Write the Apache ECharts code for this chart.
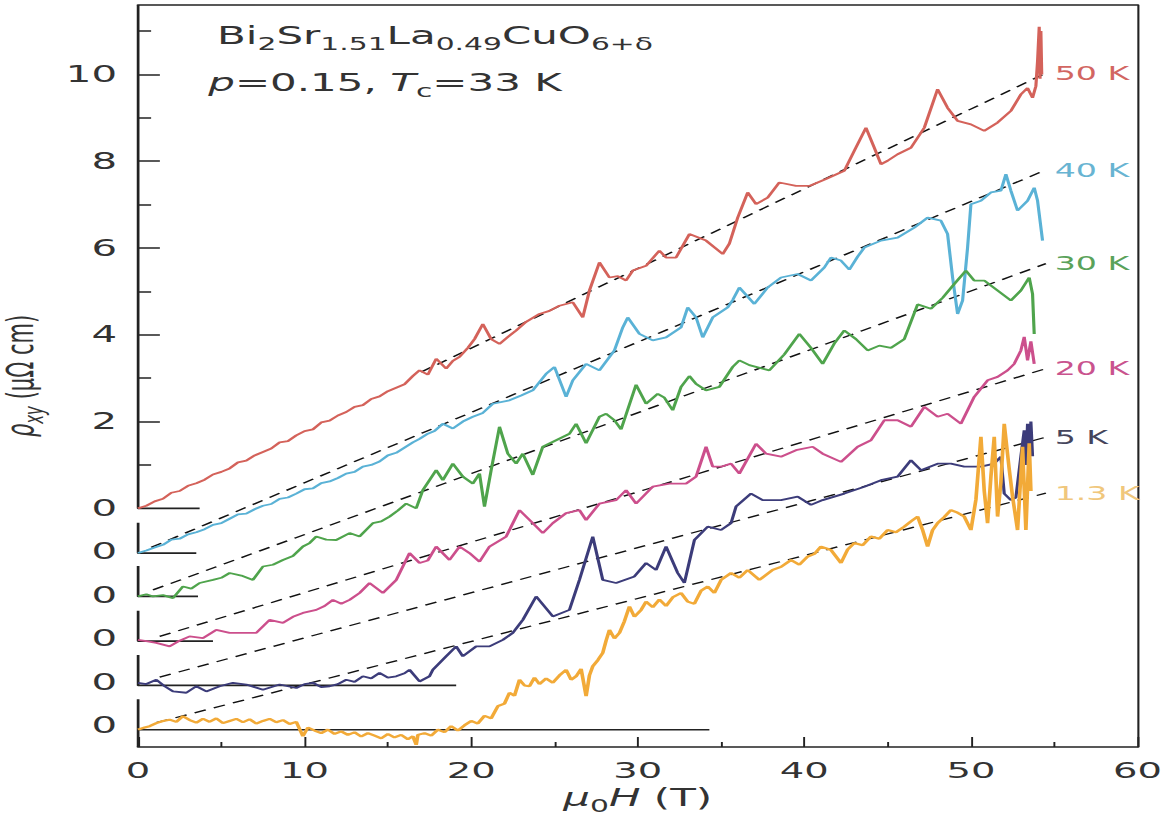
<!DOCTYPE html>
<html>
<head>
<meta charset="utf-8">
<script src="https://cdn.jsdelivr.net/npm/echarts@6/dist/echarts.min.js"></script>
<style>
html,body{margin:0;padding:0;background:#fff;overflow:hidden;}
#c{width:669.714px;height:818px;transform:scaleX(1.75);transform-origin:0 0;}
</style>
</head>
<body>
<div id="c"></div>
<script>
// ---------------- data (rho_xy in µΩ cm, field in T) ----------------
const temps = ['50 K', '40 K', '30 K', '20 K', '5 K', '1.3 K'];
const offsets = [0, -1.03, -2.03, -3.06, -4.08, -5.1];        // vertical display offsets
const baselineEnd = [3.7, 3.5, 3.6, 4.5, 19.1, 34.3];          // length of zero lines (T)
const fitStart = [[17, 3.14], [0.8, 0.13], [0.9, 0.15], [1.3, 0.11], [1.3, 0.19], [1.1, 0.16]];
const fitEnd = [[54.5, 10.03], [54.5, 8.83], [54.5, 7.67], [54.5, 6.28], [54.5, 5.72], [54.5, 5.45]];

const field_50K = [0,0.5,1,1.5,2,2.5,3,3.5,4,4.5,5,5.5,6,6.5,7,7.5,8,8.5,9,9.5,10,10.5,11,11.5,12,12.5,13,13.5,14,14.5,15,15.5,16,
 16.5,16.9,17.4,17.9,18.5,18.9,19.3,19.8,20.2,20.7,21.2,21.7,22.2,22.7,23.3,24.1,24.7,25.3,26.1,26.7,
 27.1,27.7,28.3,28.8,29.3,29.7,30.5,31.3,31.7,32.3,33.1,34.1,35.1,35.5,36.0,36.6,37.1,37.8,38.5,39.5,
 40.3,41.3,42.4,43.0,43.7,44.2,44.6,45.0,45.6,46.4,47.2,48.0,48.6,49.2,50.0,50.8,51.6,52.4,53.0,53.4,
 53.7,53.9,54.0,54.1,54.15,54.2,54.25];
const rho_50K = [0,0.06,0.16,0.22,0.36,0.40,0.52,0.58,0.66,0.78,0.84,0.92,1.06,1.10,1.22,1.30,1.38,1.52,1.55,1.68,
 1.78,1.82,1.98,2.02,2.14,2.22,2.34,2.38,2.52,2.58,2.70,2.78,2.86,
 3.05,3.18,3.08,3.45,3.22,3.40,3.49,3.70,3.90,4.25,3.90,3.79,3.95,4.10,4.30,4.48,4.55,4.67,4.75,4.40,
 5.02,5.67,5.32,5.35,5.25,5.48,5.59,5.94,5.78,5.78,6.32,6.17,5.86,6.10,6.70,7.28,7.01,7.16,7.51,7.43,
 7.43,7.59,7.78,8.24,8.77,8.31,7.93,8.01,8.16,8.31,8.77,9.66,9.23,8.93,8.85,8.70,8.89,9.16,9.54,9.69,
 9.46,9.73,10.3,11.1,9.9,11.0,10.0];

const field_40K = [0,0.5,1,1.5,2,2.5,3,3.5,4,4.5,5,5.5,6,6.5,7,7.5,8,8.5,9,9.5,
 10,10.5,11,11.5,12,12.5,13,13.5,14,14.5,15,15.5,16,16.5,16.9,17.4,17.8,18.3,18.9,19.5,
 20.1,20.7,21.3,22.3,23.0,23.7,24.5,25.0,25.7,26.1,26.9,27.7,28.6,29.1,29.4,30.1,30.9,31.7,32.6,33.0,
 33.5,33.9,34.5,35.4,35.7,36.1,37.0,37.8,38.6,39.6,40.4,41.2,41.6,42.2,42.7,43.2,43.6,44.6,45.6,46.6,
 47.4,48.2,48.6,48.9,49.2,49.5,49.8,50.0,50.6,51.2,51.8,52.1,52.4,52.8,53.4,53.8,54.0,54.3];
const rho_40K = [0,0.06,0.13,0.19,0.31,0.33,0.43,0.48,0.55,0.65,0.69,0.79,0.89,0.91,1.01,1.09,1.13,1.25,1.28,1.37,
 1.47,1.49,1.61,1.65,1.73,1.83,1.87,1.99,2.03,2.11,2.25,2.31,2.43,2.55,2.63,2.75,2.81,2.98,2.87,3.03,
 3.14,3.23,3.44,3.52,3.63,3.75,4.13,4.29,3.60,3.98,4.36,4.21,4.67,5.20,5.43,5.05,4.90,4.97,5.20,5.66,
 5.43,4.97,5.43,5.66,5.83,6.12,5.74,6.12,6.35,6.43,6.28,6.58,6.81,6.74,6.53,6.83,7.04,7.20,7.27,7.50,
 7.73,7.66,7.35,6.35,5.51,5.82,7.04,8.04,8.12,8.31,8.35,8.73,8.35,7.89,8.12,8.42,8.12,7.20];

const field_30K = [0,0.5,0.9,1.5,2.1,2.7,3.2,3.7,4.5,5.0,5.5,6.2,6.9,7.5,8.1,8.7,9.3,9.9,10.3,10.7,
 11.3,11.9,12.7,13.3,14.1,14.6,15.1,15.6,16.1,16.7,17.1,17.5,17.9,18.3,18.9,19.5,20.1,20.5,20.8,21.2,
 21.7,22.2,22.7,23.1,23.7,24.3,25.1,25.9,26.3,26.9,27.7,28.1,28.6,29.0,29.9,30.5,31.2,31.6,32.1,32.6,
 33.1,33.5,34.1,34.9,35.7,36.1,36.7,37.9,38.8,39.7,40.4,41.1,41.8,42.4,43.1,43.8,44.5,45.2,46.0,46.8,
 47.6,48.3,49.0,49.7,50.2,50.8,51.6,52.4,53.0,53.5,53.7,53.8];
const rho_30K = [0,0.05,0,0.03,-0.04,0.23,0.18,0.31,0.38,0.43,0.54,0.48,0.38,0.69,0.73,0.84,0.93,1.15,1.23,1.38,
 1.31,1.30,1.46,1.38,1.69,1.73,1.84,1.98,2.14,2.03,2.45,2.68,2.91,2.68,3.06,2.76,2.60,2.83,2.07,2.91,
 3.91,3.29,3.06,3.29,2.80,3.45,3.60,3.75,3.98,3.53,4.14,4.21,4.06,3.85,4.88,4.44,4.67,4.58,4.29,4.83,
 5.08,4.90,4.75,4.83,5.29,5.44,5.33,5.21,5.58,6.05,5.73,5.36,5.83,6.13,5.93,5.67,5.78,5.73,5.93,6.73,
 6.63,6.88,7.20,7.51,7.28,7.28,7.05,6.82,7.05,7.35,6.97,6.05];

const field_20K = [0,0.5,1.1,1.9,2.5,3.1,3.9,4.7,5.5,6.3,7.1,7.9,8.7,9.3,9.9,10.7,11.2,11.7,12.2,12.7,
 13.3,13.9,14.7,15.5,16.3,16.9,17.4,17.9,18.7,19.3,19.9,20.5,21.1,22.1,22.9,23.7,24.3,24.9,25.7,26.5,
 26.9,27.7,28.7,29.3,29.9,30.9,31.9,32.9,33.5,34.1,34.5,35.0,35.6,36.1,37.1,37.7,38.6,39.5,40.5,41.1,
 42.2,43.2,44.0,44.8,45.6,46.4,47.2,48.0,48.6,49.4,50.2,51.0,51.6,52.2,52.6,53.0,53.2,53.4,53.6,53.8];
const rho_20K = [0.03,0,-0.04,-0.12,0.01,0.11,0.07,0.26,0.19,0.19,0.19,0.49,0.42,0.56,0.65,0.72,0.81,0.95,0.86,0.95,
 1.11,1.34,1.11,1.41,2.03,1.80,1.86,2.18,1.87,2.18,2.03,1.83,2.18,2.41,3.02,2.72,2.49,2.72,2.95,3.02,
 2.79,3.17,3.25,3.48,3.17,3.56,3.63,3.63,3.79,4.48,4.02,4.02,4.09,3.86,4.55,4.32,4.25,4.40,4.48,4.32,
 4.13,4.48,4.63,5.09,5.09,4.94,5.40,5.17,5.24,5.01,5.63,6.01,6.09,6.24,6.39,6.70,7.01,6.47,6.91,6.39];

const field_5K = [0,0.5,1.1,1.6,2.1,2.9,3.5,4.1,4.9,5.7,6.5,7.0,7.5,8.5,9.0,9.5,10.0,10.5,11.0,11.5,
 12.0,12.5,13.0,13.5,14.0,14.5,15.0,15.5,16.0,16.3,16.9,17.5,17.7,18.5,19.1,19.5,20.3,21.1,21.9,22.5,
 23.1,23.9,24.9,25.9,26.5,27.3,27.9,28.7,29.8,30.5,31.1,31.7,32.4,32.8,33.4,34.2,35.0,35.6,35.9,36.8,
 37.5,38.6,39.6,40.4,41.1,42.4,43.6,44.6,45.6,46.4,47.0,48.0,48.8,49.6,50.6,51.4,51.8,52.0,52.4,52.7,
 53.0,53.2,53.3,53.4,53.5,53.6,53.7];
const rho_5K = [0.06,0.03,0.13,-0.02,-0.14,-0.17,-0.02,-0.14,-0.02,0.06,0.02,-0.04,-0.10,0.02,-0.02,-0.06,0.03,0.06,-0.04,-0.02,
 0.03,0.13,0.08,0.21,0.16,0.29,0.18,0.21,0.28,0.36,0.09,0.21,0.36,0.67,0.90,0.67,0.90,0.90,1.05,1.21,
 1.51,2.05,1.59,1.74,2.43,3.43,2.43,2.36,2.51,2.82,2.66,3.20,2.59,2.36,3.35,3.66,3.58,3.74,4.12,4.42,
 4.27,4.27,4.35,4.16,4.27,4.42,4.58,4.73,4.81,5.19,4.96,5.11,5.11,5.04,5.04,5.11,5.27,4.42,4.27,4.33,
 5.28,5.88,5.08,6.03,5.18,6.08,5.28];

const field_1p3K = [0,0.4,0.7,1.1,1.5,1.9,2.3,2.7,3.1,3.5,3.9,4.3,4.7,5.1,5.5,5.9,6.3,6.7,7.1,7.5,
 7.9,8.3,8.7,9.1,9.5,9.9,10.2,10.6,11.0,11.4,11.8,12.2,12.6,13.0,13.4,13.8,14.2,14.6,15.0,15.4,
 15.8,16.2,16.5,16.7,16.8,17.2,17.6,18.0,18.4,18.8,19.2,19.6,20.0,20.4,20.8,21.2,21.6,22.0,22.3,22.6,
 22.9,23.2,23.5,23.8,24.1,24.5,24.9,25.3,25.7,26.0,26.3,26.6,26.9,27.1,27.3,27.6,27.9,28.1,28.3,28.6,
 28.9,29.2,29.5,29.8,30.2,30.5,30.9,31.3,31.7,32.1,32.6,33.0,33.4,33.8,34.2,34.6,35.0,35.6,36.1,36.6,
 37.3,38.1,38.6,39.2,39.7,40.2,40.6,41.0,41.6,42.2,42.6,43.0,43.5,44.0,44.5,45.0,45.5,46.0,46.4,46.8,
 47.1,47.4,47.7,48.0,48.4,48.8,49.2,49.6,50.0,50.3,50.6,50.8,51.0,51.2,51.4,51.6,51.8,52.0,52.3,52.5,
 52.8,53.1,53.3,53.5,53.6];
const rho_1p3K = [0,0.05,0.08,0.15,0.20,0.23,0.18,0.31,0.22,0.16,0.25,0.18,0.26,0.15,0.20,0.25,0.17,0.24,0.14,0.20,
 0.25,0.17,0.22,0.13,0.18,-0.15,0.05,-0.02,-0.08,0,-0.10,-0.04,-0.12,-0.06,-0.16,-0.08,-0.14,-0.20,-0.10,-0.18,
 -0.12,-0.22,-0.15,-0.35,-0.12,-0.08,-0.14,0,-0.06,0.08,-0.02,0.10,0.20,0.14,0.32,0.26,0.54,0.60,0.85,0.78,
 1.15,1.02,1.00,1.20,1.05,1.18,1.08,1.25,1.38,1.15,1.23,1.40,0.77,1.25,1.46,1.60,1.77,2.05,2.30,2.10,
 2.23,2.50,2.84,2.60,2.76,2.95,2.82,3.00,2.85,3.05,3.15,2.95,2.90,3.20,3.30,3.15,3.45,3.61,3.50,3.68,
 3.45,3.68,3.75,3.91,3.80,3.99,4.05,4.22,4.14,3.84,4.15,4.30,4.25,4.45,4.40,4.60,4.55,4.68,4.80,4.91,
 4.60,4.22,4.60,4.76,4.90,5.06,5.00,4.91,4.60,5.30,6.75,5.50,4.76,5.83,6.75,4.91,5.70,7.05,6.00,5.37,
 4.60,6.52,4.60,6.60,5.50];

const yLabelValues = [-5, -4, -3, -2, -1, 0, 2, 4, 6, 8, 10];
const yMajorTicks = [2, 4, 6, 8, 10];
const yMinorTicks = [1, 3, 5, 7, 9, 11];
const xMin = 0, xMax = 60, xStep = 10;
const yMin = -5.5, yMax = 11.6;
const stubHeight = 0.7;

// ---------------- styling ----------------
const S = 1.75;               // horizontal stretch of the whole figure
const F = 'DejaVu Sans';
const TXT = '#333';
const AX = '#222';
const curveColors = ['#d4625a', '#5ab2d6', '#4fa44c', '#cc4f8c', '#3c3c7a', '#f2aa38'];
const curveWidths = [1.8, 1.8, 1.8, 1.8, 1.8, 2.1];
const labelColors = ['#d26662', '#68b4d2', '#5aa25a', '#c9538e', '#45455c', '#f0c77c'];

const fields = [field_50K, field_40K, field_30K, field_20K, field_5K, field_1p3K];
const rhos = [rho_50K, rho_40K, rho_30K, rho_20K, rho_5K, rho_1p3K];

const series = [];
temps.forEach((name, i) => {
  const off = offsets[i];
  // axis stub + zero line
  let seg;
  if (i === 0) seg = [[0, yMax], [0, off], [baselineEnd[i], off]];
  else if (i === temps.length - 1) seg = [[0, off + stubHeight], [0, yMin]];
  else seg = [[0, off + stubHeight], [0, off], [baselineEnd[i], off]];
  series.push({type: 'line', data: seg, showSymbol: false, silent: true, clip: false, z: 2,
    lineStyle: {color: AX, width: 1.7}});
  if (i === temps.length - 1) {
    series.push({type: 'line', data: [[0, off], [baselineEnd[i], off]], showSymbol: false, silent: true, clip: false, z: 2,
      lineStyle: {color: AX, width: 1.5}});
  }
  // dashed fit line with temperature label
  series.push({type: 'line', name: name, showSymbol: false, silent: true, clip: false, z: 2,
    data: [[fitStart[i][0], fitStart[i][1] + off], [fitEnd[i][0], fitEnd[i][1] + off]],
    lineStyle: {color: '#111', width: 1.3, type: [7, 5]},
    endLabel: {show: true, formatter: () => name, color: labelColors[i], fontSize: 19, fontFamily: F,
               fontWeight: 'normal', distance: 5}});
  // measured curve
  series.push({type: 'line', name: name + ' data', showSymbol: false, silent: true, clip: false, z: 3,
    data: fields[i].map((x, j) => [x, rhos[i][j] + off]),
    lineStyle: {color: curveColors[i], width: curveWidths[i]}});
});

const richBase = {fontFamily: F, color: TXT, fontWeight: 'normal'};
const chart = echarts.init(document.getElementById('c'), null, {renderer: 'svg'});
chart.setOption({
  animation: false,
  backgroundColor: '#fff',
  grid: {left: 138 / S, right: 35 / S, top: 5, bottom: 71, containLabel: false, outerBoundsMode: 'none'},
  title: [
    {left: 124, top: 19, padding: 0,
     text: '{n|Bi}{s|2}{n|Sr}{s|1.51}{n|La}{s|0.49}{n|CuO}{s|6+δ}',
     textStyle: {fontWeight: 'normal', rich: {
       n: Object.assign({fontSize: 24, lineHeight: 34, verticalAlign: 'middle'}, richBase),
       s: Object.assign({fontSize: 17, lineHeight: 18, verticalAlign: 'bottom'}, richBase)}}},
    {left: 119, top: 66, padding: 0,
     text: '{i|p}{n|=0.15, }{i|T}{s|c}{n|=33 K}',
     textStyle: {fontWeight: 'normal', rich: {
       n: Object.assign({fontSize: 24, lineHeight: 34, verticalAlign: 'middle'}, richBase),
       i: Object.assign({fontSize: 24, fontStyle: 'italic', lineHeight: 34, verticalAlign: 'middle'}, richBase),
       s: Object.assign({fontSize: 17, lineHeight: 18, verticalAlign: 'bottom'}, richBase)}}}
  ],
  xAxis: [
    {type: 'value', min: xMin, max: xMax, interval: xStep, position: 'bottom',
     axisLine: {show: true, onZero: false, lineStyle: {color: AX, width: 1.6}},
     axisTick: {show: true, inside: true, length: 10, lineStyle: {color: AX, width: 1.1}},
     minorTick: {show: true, splitNumber: 2, length: 5, lineStyle: {color: AX, width: 1.1}},
     splitLine: {show: false}, minorSplitLine: {show: false},
     axisLabel: {fontSize: 22, fontFamily: F, color: TXT, margin: 12},
     name: '{i|μ}{s|0}{i|H}{n| (T)}', nameLocation: 'middle', nameGap: 34,
     nameTextStyle: {rich: {
       i: Object.assign({fontSize: 24, fontStyle: 'italic', lineHeight: 34, verticalAlign: 'middle'}, richBase),
       n: Object.assign({fontSize: 24, lineHeight: 34, verticalAlign: 'middle'}, richBase),
       s: Object.assign({fontSize: 17, lineHeight: 18, verticalAlign: 'bottom'}, richBase)}}},
    {type: 'value', min: xMin, max: xMax, position: 'top',
     axisLine: {show: true, onZero: false, lineStyle: {color: AX, width: 1.6}},
     axisTick: {show: false}, axisLabel: {show: false}, splitLine: {show: false}}
  ],
  yAxis: [
    {type: 'value', min: yMin, max: yMax, position: 'left',
     axisLine: {show: false, onZero: false},
     axisTick: {show: true, inside: true, length: 12.5, customValues: yMajorTicks, lineStyle: {color: AX, width: 1.5}},
     axisLabel: {show: true, customValues: yLabelValues, formatter: v => (v < 0 ? '0' : String(v)),
                 fontSize: 23, fontFamily: F, color: TXT, margin: 12},
     splitLine: {show: false},
     name: '{i|ρ}{s|xy}{n| (μΩ cm)}', nameLocation: 'middle', nameGap: 45, nameRotate: 90,
     nameTextStyle: {rich: {
       i: Object.assign({fontSize: 21, fontStyle: 'italic', lineHeight: 30, verticalAlign: 'middle'}, richBase),
       n: Object.assign({fontSize: 21, lineHeight: 30, verticalAlign: 'middle'}, richBase),
       s: Object.assign({fontSize: 15, fontStyle: 'italic', lineHeight: 16, verticalAlign: 'bottom'}, richBase)}}},
    {type: 'value', min: yMin, max: yMax, position: 'left',
     axisLine: {show: false, onZero: false},
     axisTick: {show: true, inside: true, length: 7.5, customValues: yMinorTicks, lineStyle: {color: AX, width: 1.5}},
     axisLabel: {show: false}, splitLine: {show: false}},
    {type: 'value', min: yMin, max: yMax, position: 'right',
     axisLine: {show: true, onZero: false, lineStyle: {color: AX, width: 1.2}},
     axisTick: {show: false}, axisLabel: {show: false}, splitLine: {show: false}}
  ],
  series: series
});
</script>
</body>
</html>
